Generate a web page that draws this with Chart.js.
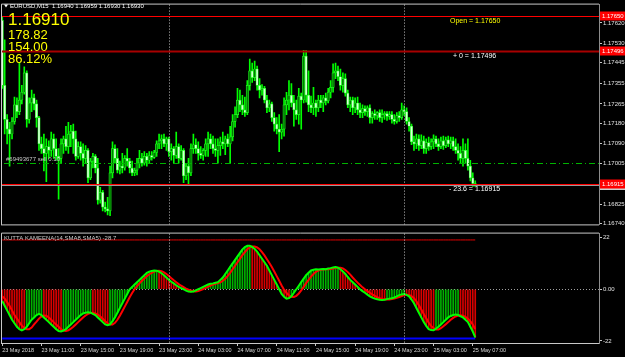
<!DOCTYPE html>
<html>
<head>
<meta charset="utf-8">
<script src="https://cdn.jsdelivr.net/npm/chart.js@4.4.1/dist/chart.umd.min.js"></script>
<style>
  html, body { margin: 0; padding: 0; background: #000; }
  #wrap { position: relative; width: 625px; height: 357px; overflow: hidden; background: #000; }
  canvas { position: absolute; left: 0; }
  #price { top: 0; }
  #osc { top: 229px; }
</style>
</head>
<body>
<div id="wrap">
  <canvas id="price" width="625" height="229"></canvas>
  <canvas id="osc" width="625" height="128"></canvas>
</div>
<script>
// EURUSD M15, 23 May 07:00 .. 25 May 07:15, plus empty shift area on the right
const SLOTS = 244;
const TICK_EVERY = 16;
const tickLabels = ['23 May 2018', '23 May 11:00', '23 May 15:00', '23 May 19:00', '23 May 23:00',
  '24 May 03:00', '24 May 07:00', '24 May 11:00', '24 May 15:00', '24 May 19:00',
  '24 May 23:00', '25 May 03:00', '25 May 07:00'];
const separatorBars = [68, 164]; // 24 May 00:00, 25 May 00:00

const firstOpen = 1.17631;
const closes = [1.17346,1.17197,1.17154,1.17133,1.17188,1.17261,1.17231,1.17282,1.17316,1.17401,
1.17197,1.17269,1.17291,1.17265,1.17205,1.17090,1.17069,1.17048,1.17078,1.17061,
1.17112,1.17069,1.17035,1.17026,1.17090,1.17112,1.17078,1.17133,1.17146,1.17112,
1.17035,1.17078,1.17048,1.17026,1.17061,1.16941,1.17014,1.17035,1.16984,1.16843,
1.16877,1.16813,1.16805,1.16796,1.16963,1.17069,1.17026,1.16975,1.16992,1.16984,
1.17026,1.17014,1.16984,1.16963,1.16975,1.17005,1.17026,1.17005,1.17035,1.17018,
1.17039,1.17031,1.17052,1.17090,1.17103,1.17112,1.17090,1.17112,1.17056,1.17069,
1.17039,1.17078,1.17026,1.17061,1.16950,1.16992,1.16963,1.17069,1.17086,1.17069,
1.17048,1.17039,1.17061,1.17090,1.17112,1.17090,1.17069,1.17061,1.17082,1.17099,
1.17090,1.17112,1.17090,1.17120,1.17188,1.17218,1.17282,1.17261,1.17239,1.17227,
1.17346,1.17410,1.17380,1.17418,1.17346,1.17325,1.17333,1.17282,1.17248,1.17265,
1.17205,1.17176,1.17154,1.17141,1.17154,1.17261,1.17282,1.17303,1.17269,1.17239,
1.17218,1.17299,1.17282,1.17474,1.17303,1.17261,1.17248,1.17269,1.17248,1.17282,
1.17269,1.17291,1.17278,1.17316,1.17337,1.17401,1.17410,1.17384,1.17346,1.17376,
1.17312,1.17261,1.17282,1.17248,1.17269,1.17239,1.17227,1.17244,1.17231,1.17248,
1.17205,1.17222,1.17214,1.17227,1.17205,1.17218,1.17222,1.17210,1.17218,1.17197,
1.17188,1.17214,1.17205,1.17239,1.17231,1.17188,1.17167,1.17099,1.17090,1.17112,
1.17082,1.17103,1.17069,1.17095,1.17078,1.17099,1.17112,1.17090,1.17078,1.17103,
1.17082,1.17107,1.17090,1.17103,1.17078,1.17061,1.17048,1.17026,1.17061,1.17026,
1.16992,1.16941,1.16916,1.16910];
const highs = [1.17644,1.17546,1.17218,1.17184,1.17205,1.17295,1.17291,1.17444,1.17346,1.17427,
1.17410,1.17291,1.17325,1.17308,1.17282,1.17210,1.17120,1.17133,1.17112,1.17103,
1.17141,1.17133,1.17112,1.17069,1.17112,1.17124,1.17167,1.17184,1.17171,1.17176,
1.17146,1.17099,1.17099,1.17090,1.17082,1.17069,1.17026,1.17048,1.17043,1.17026,
1.16899,1.16886,1.16835,1.16856,1.16992,1.17099,1.17086,1.17069,1.17014,1.17048,
1.17039,1.17069,1.17026,1.17014,1.16984,1.17026,1.17061,1.17048,1.17056,1.17048,
1.17056,1.17056,1.17061,1.17103,1.17133,1.17129,1.17133,1.17120,1.17120,1.17090,
1.17078,1.17141,1.17090,1.17082,1.17069,1.17005,1.17026,1.17090,1.17133,1.17112,
1.17099,1.17078,1.17069,1.17112,1.17141,1.17133,1.17124,1.17112,1.17112,1.17120,
1.17141,1.17124,1.17133,1.17167,1.17218,1.17252,1.17333,1.17325,1.17303,1.17295,
1.17367,1.17461,1.17444,1.17452,1.17431,1.17376,1.17350,1.17342,1.17303,1.17282,
1.17273,1.17227,1.17205,1.17218,1.17176,1.17291,1.17316,1.17367,1.17354,1.17303,
1.17282,1.17333,1.17312,1.17500,1.17499,1.17410,1.17299,1.17337,1.17282,1.17303,
1.17303,1.17303,1.17312,1.17333,1.17367,1.17440,1.17444,1.17431,1.17418,1.17401,
1.17397,1.17325,1.17295,1.17295,1.17291,1.17295,1.17269,1.17261,1.17256,1.17256,
1.17261,1.17231,1.17239,1.17231,1.17239,1.17239,1.17231,1.17231,1.17231,1.17231,
1.17218,1.17227,1.17231,1.17269,1.17256,1.17248,1.17205,1.17176,1.17124,1.17133,
1.17129,1.17129,1.17124,1.17112,1.17120,1.17112,1.17129,1.17124,1.17112,1.17120,
1.17124,1.17120,1.17124,1.17120,1.17120,1.17112,1.17090,1.17078,1.17112,1.17090,
1.17112,1.17018,1.16963,1.16928];
const lows = [1.17333,1.17133,1.17090,1.16992,1.17112,1.17176,1.17205,1.17218,1.17265,1.17308,
1.17163,1.17180,1.17231,1.17239,1.17163,1.17061,1.17048,1.16971,1.16924,1.17026,
1.17035,1.17026,1.17018,1.16848,1.17005,1.17048,1.17061,1.17048,1.17078,1.17048,
1.17018,1.17026,1.17018,1.16992,1.17005,1.16920,1.16933,1.16984,1.16963,1.16826,
1.16830,1.16796,1.16792,1.16779,1.16775,1.16941,1.17005,1.16963,1.16958,1.16963,
1.16975,1.16992,1.16963,1.16950,1.16950,1.16954,1.16984,1.16992,1.16997,1.16992,
1.17005,1.17018,1.17026,1.17035,1.17069,1.17069,1.17078,1.17061,1.17035,1.17018,
1.17005,1.17026,1.17005,1.17018,1.16920,1.16933,1.16911,1.16950,1.17048,1.17048,
1.17018,1.17026,1.17018,1.17035,1.17035,1.17069,1.17048,1.17035,1.17005,1.17039,
1.17069,1.17043,1.17078,1.17005,1.17103,1.17163,1.17205,1.17231,1.17218,1.17210,
1.17218,1.17325,1.17359,1.17367,1.17325,1.17291,1.17303,1.17269,1.17227,1.17231,
1.17188,1.17146,1.17133,1.17056,1.17112,1.17124,1.17218,1.17239,1.17252,1.17167,
1.17197,1.17176,1.17154,1.17269,1.17273,1.17231,1.17227,1.17218,1.17210,1.17231,
1.17248,1.17231,1.17261,1.17269,1.17291,1.17316,1.17376,1.17367,1.17325,1.17316,
1.17299,1.17248,1.17231,1.17218,1.17227,1.17218,1.17205,1.17205,1.17214,1.17210,
1.17180,1.17180,1.17197,1.17197,1.17188,1.17184,1.17197,1.17193,1.17197,1.17180,
1.17176,1.17180,1.17188,1.17197,1.17214,1.17176,1.17146,1.17086,1.17061,1.17069,
1.17061,1.17069,1.17048,1.17048,1.17061,1.17065,1.17069,1.17078,1.17061,1.17069,
1.17065,1.17073,1.17078,1.17069,1.17061,1.17048,1.17018,1.17005,1.16992,1.17005,
1.16975,1.16928,1.16903,1.16903];

const priceTicks = [1.17620, 1.17530, 1.17445, 1.17355, 1.17265, 1.17180, 1.17090, 1.17005, 1.16915, 1.16825, 1.16740];
const levelPrices = [1.17650, 1.17496, 1.16915];
const levelCaptions = ['Open = 1.17650', '+ 0 = 1.17496', '- 23.6 = 1.16915'];
const bidPrice = 1.16910;
const orderPrice = 1.17005;
const orderComment = '#69493677 sell 0.10';
const titleText = 'EURUSD,M15  1.16940 1.16959 1.16930 1.16930';
const bigQuote = '1.16910';
const infoLines = ['178.82', '154.00', '86.12%'];

// KUTTA KAMEENA(14,SMA8,SMA5)
const fastLine = [-5,-7,-9,-11,-13,-14.5,-16,-17,-17.5,-17,
-16,-14.5,-13,-12,-11,-10.5,-11,-12,-13,-14,
-15,-16,-17,-17.8,-18,-17.6,-17,-16,-15,-14,
-13,-12,-11,-10.3,-10,-9.8,-10,-10.5,-11,-12,
-13,-14,-15,-15.3,-15,-13.6,-12,-10,-8,-6,
-4,-2,0,1,2,3,4,5,6,7,
7.5,7.8,8,7.9,7.5,6.8,6,5,4,3.2,
2.5,1.7,1,0.5,0,-0.6,-1,-1.1,-1,-0.5,
0,0.5,1,1.5,2,2.3,2.5,2.8,3,4,
5,6.5,8,9.5,11,12.5,14,15.5,17,18,
18.5,18.5,18,17.2,16,14.5,13,11.5,10,8,
6,4,2,0,-2,-3.2,-4,-3.8,-3,-1.5,
0,1.5,3,4.5,6,7,8,8.3,8.5,8.4,
8.5,8.6,8.5,8.8,9,9.3,9.5,9.2,8.5,7.6,
6.5,5.2,4,3,2,1,0,-0.8,-1.5,-2.3,
-3,-3.6,-4,-4.3,-4.5,-4.6,-4.5,-4.2,-4,-3.8,
-3.5,-3,-2.5,-2.2,-2,-2.4,-3,-4.4,-6,-8,
-10,-12,-14,-15.6,-17,-17.4,-17.5,-16.8,-16,-15,
-14,-13,-12,-11.4,-11,-10.8,-11,-11.5,-12,-13,
-14,-16,-18,-20.5];
const slowLine = [-3,-4,-5.5,-7,-9,-11,-12.5,-14,-15.5,-16.5,
-17,-17,-16.3,-15,-13.8,-12.5,-11.6,-11.2,-11.3,-12,
-13,-14,-15,-16,-17,-17.6,-17.8,-17.5,-16.8,-16,
-15,-14,-13,-12,-11.2,-10.5,-10.1,-10,-10.3,-10.8,
-11.6,-12.6,-13.6,-14.5,-15,-15,-14.3,-13,-11.3,-9.4,
-7.4,-5.4,-3.4,-1.6,0,1.3,2.5,3.6,4.6,5.6,
6.4,7,7.5,7.8,7.9,7.7,7.2,6.5,5.6,4.7,
3.8,3,2.2,1.5,0.9,0.3,-0.2,-0.6,-0.9,-1,
-0.8,-0.4,0.1,0.6,1.1,1.6,2,2.3,2.6,2.9,
3.6,4.5,5.7,7,8.5,10,11.5,13,14.5,15.8,
17,17.8,18.2,18.2,17.8,17,15.8,14.4,12.8,11.2,
9.5,7.6,5.6,3.6,1.6,-0.2,-1.6,-2.6,-3.2,-3.3,
-2.8,-1.8,-0.5,1,2.6,4,5.4,6.5,7.4,8,
8.3,8.4,8.5,8.5,8.6,8.8,9,9.2,9.2,8.9,
8.2,7.3,6.2,5,3.9,2.8,1.8,0.8,0,-0.8,
-1.5,-2.2,-2.8,-3.4,-3.8,-4.1,-4.3,-4.4,-4.4,-4.2,
-4,-3.7,-3.3,-2.9,-2.5,-2.3,-2.4,-2.9,-3.8,-5.1,
-6.8,-8.6,-10.6,-12.4,-14.2,-15.6,-16.6,-17.1,-17.1,-16.6,
-15.8,-14.9,-14,-13,-12.2,-11.6,-11.2,-11.1,-11.3,-11.8,
-12.6,-13.6,-15,-17];
const upperLevel = 21;
const lowerLevel = -21;
const oscTicks = [22, 0, -22];
const oscLabel = 'KUTTA KAMEENA(14,SMA8,SMA5) -28.7';

// ---------- helpers ----------
const FONT = '"Liberation Sans", Arial, sans-serif';
function txt(ctx, s, x, y, color, size, base) {
  ctx.fillStyle = color;
  ctx.font = size + 'px ' + FONT;
  ctx.textAlign = 'left';
  ctx.textBaseline = base || 'middle';
  ctx.fillText(s, x, y);
}
function hline(ctx, x1, x2, y, color, w, dash) {
  ctx.save();
  ctx.strokeStyle = color; ctx.lineWidth = w;
  ctx.setLineDash(dash || []);
  ctx.beginPath(); ctx.moveTo(x1, y); ctx.lineTo(x2, y); ctx.stroke();
  ctx.restore();
}
function separators(chart) {
  const {ctx, chartArea: a, scales: {x}} = chart;
  ctx.save();
  ctx.strokeStyle = '#c0c0c0'; ctx.lineWidth = 1; ctx.setLineDash([1, 2]);
  separatorBars.forEach(i => {
    const px = Math.round(x.getPixelForValue(i)) + 0.5;
    ctx.beginPath(); ctx.moveTo(px, a.top); ctx.lineTo(px, a.bottom); ctx.stroke();
  });
  ctx.restore();
}

const slots = Array.from({length: SLOTS}, (_, i) => i);
const opens = closes.map((c, i) => i === 0 ? firstOpen : closes[i - 1]);
const wickData = highs.map((h, i) => [lows[i], h]);
const bodyData = closes.map((c, i) => [opens[i], c]);
const bodyColors = closes.map((c, i) => c >= opens[i] ? '#007c00' : '#d8ffd8');

const pricePlugin = {
  id: 'mt4price',
  afterDatasetsDraw(chart) {
    const {ctx, chartArea: a, scales: {y}} = chart;
    separators(chart);
    const levelColors = ['#ff0000', '#a80000', '#ff0000'];
    const levelWidths = [1, 2, 1];
    hline(ctx, a.left, a.right, Math.round(y.getPixelForValue(bidPrice)) + 0.5, '#9a9a9a', 1);
    levelPrices.forEach((p, i) => {
      hline(ctx, a.left, a.right, Math.round(y.getPixelForValue(p)) + 0.5, levelColors[i], levelWidths[i]);
    });
    hline(ctx, a.left + 3, a.right, Math.round(y.getPixelForValue(orderPrice)) + 0.5, '#00b400', 1, [6, 3, 1, 3]);
  },
  afterDraw(chart) {
    const {ctx, chartArea: a, scales: {y}} = chart;
    // frame
    ctx.save();
    ctx.strokeStyle = '#c8c8c8'; ctx.lineWidth = 1;
    ctx.beginPath();
    ctx.moveTo(1.5, a.bottom + 0.5); ctx.lineTo(1.5, a.top - 0.5); ctx.lineTo(a.right, a.top - 0.5);
    ctx.moveTo(1, a.bottom + 0.5); ctx.lineTo(a.right, a.bottom + 0.5);
    ctx.stroke();
    // title triangle
    ctx.fillStyle = '#ffffff';
    ctx.beginPath(); ctx.moveTo(4, 4.5); ctx.lineTo(8, 4.5); ctx.lineTo(6, 7.5); ctx.closePath(); ctx.fill();
    ctx.restore();
    txt(ctx, titleText, 10, 6.5, '#ffffff', 6);
    txt(ctx, bigQuote, 8, 25, '#ffff00', 17, 'alphabetic');
    infoLines.forEach((s, i) => txt(ctx, s, 8, 39 + i * 12, '#ffff00', 13, 'alphabetic'));
    // captions of the levels
    const capColors = ['#ffff00', '#ffffff', '#ffffff'];
    const capX = [450, 453, 449];
    levelPrices.forEach((p, i) => txt(ctx, levelCaptions[i], capX[i], y.getPixelForValue(p) + 5, capColors[i], 7));
    txt(ctx, orderComment, 6, y.getPixelForValue(orderPrice) - 3.5, '#c8c8c8', 6);
    // price tags on the axis
    const by = y.getPixelForValue(bidPrice);
    ctx.fillStyle = '#d0d0d0';
    ctx.fillRect(600, Math.round(by) - 4, 25, 9);
    levelPrices.forEach(p => {
      const py = Math.round(y.getPixelForValue(p));
      ctx.fillStyle = '#ff0000';
      ctx.fillRect(600, py - 4.5, 25, 9);
      txt(ctx, p.toFixed(5), 602, py, '#ffffff', 6);
    });
  }
};

new Chart(document.getElementById('price'), {
  type: 'bar',
  data: {
    labels: slots,
    datasets: [
      { data: bodyData, backgroundColor: bodyColors, borderColor: '#22ff22', borderWidth: 0.7,
        borderSkipped: false, barThickness: 2.4, grouped: false, order: 1 },
      { data: wickData, backgroundColor: '#00ff00', barThickness: 1, grouped: false, order: 2 }
    ]
  },
  options: {
    responsive: false,
    animation: false,
    events: [],
    layout: { padding: { left: 1, top: 2, bottom: 1, right: 0 } },
    plugins: { legend: { display: false }, tooltip: { enabled: false } },
    scales: {
      x: { display: false },
      y: {
        position: 'right',
        min: 1.16737,
        max: 1.17700,
        afterBuildTicks: s => { s.ticks = priceTicks.map(v => ({ value: v })); },
        afterFit: s => { s.width = 26; },
        ticks: { autoSkip: false, color: '#e0e0e0', padding: 1, font: { family: FONT, size: 6 }, callback: v => v.toFixed(5) },
        grid: { drawOnChartArea: false, tickLength: 3, tickColor: '#c8c8c8' },
        border: { color: '#8c8c8c' }
      }
    }
  },
  plugins: [pricePlugin]
});

// ---------- oscillator window ----------
const histColors = fastLine.map((v, i) => v >= slowLine[i] ? '#00b000' : '#d80000');

const oscPlugin = {
  id: 'mt4osc',
  beforeDatasetsDraw(chart) {
    const {ctx, chartArea: a, scales: {y}} = chart;
    hline(ctx, a.left, a.right, Math.round(y.getPixelForValue(0)) + 0.5, '#a0a0a0', 1, [1, 2]);
  },
  afterDatasetsDraw(chart) {
    separators(chart);
  },
  afterDraw(chart) {
    const {ctx, chartArea: a} = chart;
    ctx.save();
    ctx.strokeStyle = '#c8c8c8'; ctx.lineWidth = 1;
    ctx.beginPath();
    ctx.moveTo(1.5, a.bottom); ctx.lineTo(1.5, a.top - 0.5); ctx.lineTo(a.right, a.top - 0.5);
    ctx.stroke();
    ctx.restore();
    txt(ctx, oscLabel, 4, a.top + 5, '#c8c8c8', 6);
  }
};

new Chart(document.getElementById('osc'), {
  type: 'bar',
  data: {
    labels: slots,
    datasets: [
      { type: 'line', data: fastLine, borderColor: '#00ff00', borderWidth: 2, pointRadius: 0, order: 1 },
      { type: 'line', data: slowLine, borderColor: '#ff0000', borderWidth: 2, pointRadius: 0, order: 2 },
      { type: 'line', data: fastLine.map(() => upperLevel), borderColor: '#e00000', borderWidth: 1, pointRadius: 0, order: 3 },
      { type: 'line', data: fastLine.map(() => lowerLevel), borderColor: '#0000ff', borderWidth: 2, pointRadius: 0, order: 3 },
      { data: fastLine, backgroundColor: histColors, barThickness: 1, order: 5 }
    ]
  },
  options: {
    responsive: false,
    animation: false,
    events: [],
    layout: { padding: { left: 1, top: 2, bottom: 0, right: 0 } },
    plugins: { legend: { display: false }, tooltip: { enabled: false } },
    scales: {
      x: {
        offset: true,
        afterBuildTicks: s => {
          s.ticks = s.ticks.filter(t => t.value % TICK_EVERY === 0 && t.value / TICK_EVERY < tickLabels.length);
        },
        afterFit: s => { s.height = 14; },
        ticks: {
          autoSkip: false, maxRotation: 0, minRotation: 0, align: 'start', padding: 1,
          color: '#d8d8d8', font: { family: FONT, size: 5.5 },
          callback: v => tickLabels[v / TICK_EVERY]
        },
        grid: { offset: false, drawOnChartArea: false, tickLength: 3, tickColor: '#c8c8c8' },
        border: { color: '#c8c8c8' }
      },
      y: {
        position: 'right',
        min: -22.9,
        max: 23.7,
        afterBuildTicks: s => { s.ticks = oscTicks.map(v => ({ value: v })); },
        afterFit: s => { s.width = 26; },
        ticks: { autoSkip: false, color: '#e0e0e0', padding: 1, font: { family: FONT, size: 6 }, callback: v => v === 0 ? '0.00' : String(v) },
        grid: { drawOnChartArea: false, tickLength: 3, tickColor: '#c8c8c8' },
        border: { color: '#8c8c8c' }
      }
    }
  },
  plugins: [oscPlugin]
});
</script>
</body>
</html>
